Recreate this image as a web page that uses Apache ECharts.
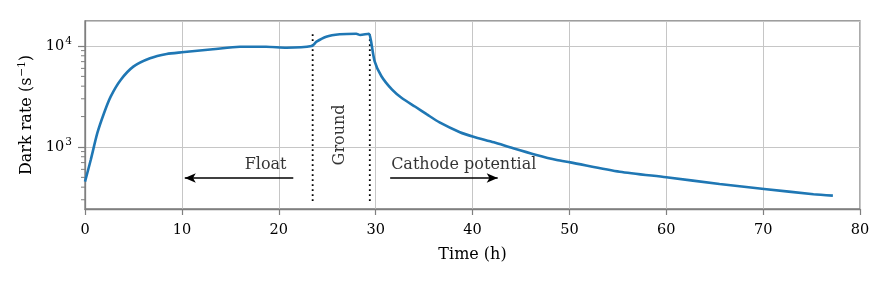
<!doctype html>
<html>
<head>
<meta charset="utf-8" />
<script src="https://cdn.jsdelivr.net/npm/echarts@6/dist/echarts.min.js"></script>
<style>
  html, body { margin: 0; padding: 0; background: #fff; }
  #chart { width: 886px; height: 284px; }
</style>
</head>
<body>
<div id="chart"></div>
<script>
// dark rate vs time
const timeH = [0, 0.59, 1.27, 1.96, 2.65, 3.68, 4.99, 6.71, 8.43, 10, 13.2, 16, 18.7, 20.8, 23.4,
  23.9, 24.9, 26.3, 28.0, 28.4, 29.3, 29.5, 29.9, 30.6, 31.7, 32.7, 34.1, 35.3, 36.6, 38.7, 40.1,
  42.2, 44.2, 46.6, 48.7, 50.1, 55.2, 60, 65.5, 70.1, 75.2, 77.2];
const darkRate = [453, 743, 1368, 2158, 3150, 4605, 6240, 7551, 8335, 8660, 9274, 9840, 9840, 9620, 10000,
  11030, 12370, 13060, 13240, 12850, 13240, 11500, 7050, 5010, 3690, 3050, 2500, 2100, 1750, 1400, 1264,
  1113, 971, 834, 743, 704, 569, 501, 430, 384, 340, 330];

const switchTimes = [23.5, 29.4];
const switchRange = [292, 13450];
const minorTickValues = [300, 400, 500, 600, 700, 800, 900,
  2000, 3000, 4000, 5000, 6000, 7000, 8000, 9000];

const FONT = "'DejaVu Serif', 'Liberation Serif', serif";
const AXIS_GREY = '#7f7f7f';
const TXT = '#000';

const chart = echarts.init(document.getElementById('chart'), null, { renderer: 'canvas' });

const arrowLine = (from, to) => [{ coord: from }, { coord: to }];
const supStyle = { fontFamily: FONT, fontSize: 10.5, color: TXT, verticalAlign: 'top', padding: [0, 0, 9, 1] };

chart.setOption({
  animation: false,
  backgroundColor: '#fff',
  grid: { left: 85, right: 26, top: 21, bottom: 75, show: true, borderColor: AXIS_GREY, borderWidth: 1.3 },
  xAxis: {
    type: 'value', min: 0, max: 80, interval: 10,
    name: 'Time (h)', nameLocation: 'middle', nameGap: 38,
    nameTextStyle: { fontFamily: FONT, fontSize: 16, color: TXT },
    axisLine: { lineStyle: { color: AXIS_GREY, width: 1.3 } },
    axisTick: { show: true, length: 6, lineStyle: { color: AXIS_GREY, width: 1.2 } },
    axisLabel: { fontFamily: FONT, fontSize: 14.5, color: TXT, margin: 14 },
    splitLine: { lineStyle: { color: '#c6c6c6', width: 1 } },
  },
  yAxis: {
    type: 'log', logBase: 10, min: 243, max: 17680,
    name: '{n|Dark rate (s}{s|−1}{n|)}', nameLocation: 'middle', nameGap: 46,
    nameTextStyle: { rich: {
      n: { fontFamily: FONT, fontSize: 16, color: TXT },
      s: supStyle,
    } },
    axisLine: { show: true, lineStyle: { color: AXIS_GREY, width: 1.3 } },
    axisTick: { show: true, length: 7, lineStyle: { color: AXIS_GREY, width: 1.2 } },
    axisLabel: {
      fontFamily: FONT, fontSize: 14.5, color: TXT, margin: 13,
      showMinLabel: false, showMaxLabel: false,
      formatter: (v) => {
        const p = Math.log10(v);
        if (Math.abs(p - Math.round(p)) > 1e-6) return '';
        return '10{s|' + Math.round(p) + '}';
      },
      rich: { s: supStyle },
    },
    splitLine: { lineStyle: { color: '#c6c6c6', width: 1 } },
  },
  series: [
    {
      type: 'line', data: timeH.map((t, i) => [t, darkRate[i]]),
      showSymbol: false, smooth: 0.25, lineStyle: { color: '#1f77b4', width: 2.6 }, z: 5,
    },
    ...switchTimes.map((t) => ({
      type: 'line', data: [[t, switchRange[0]], [t, switchRange[1]]], showSymbol: false,
      lineStyle: { color: '#000', width: 1.8, type: [1.8, 3.2] }, z: 4,
    })),
    {
      type: 'line', data: [], silent: true,
      markLine: {
        silent: true, symbol: ['none', 'arrow'], symbolSize: [7, 11],
        lineStyle: { color: '#000', width: 1.5, type: 'solid' }, label: { show: false },
        data: [arrowLine([21.5, 493], [10.3, 493]), arrowLine([31.5, 493], [42.6, 493])],
      },
    },
    {
      type: 'scatter', symbolSize: 0, silent: true, z: 6,
      data: [
        { value: [20.8, 664], label: { formatter: 'Float', align: 'right' } },
        { value: [31.6, 664], label: { formatter: 'Cathode potential', align: 'left' } },
        { value: [26.3, 1316], label: { formatter: 'Ground', align: 'center', rotate: 90 } },
      ],
      label: { show: true, position: 'inside', fontFamily: FONT, fontSize: 16, color: TXT, verticalAlign: 'middle' },
    },
    {
      // minor log ticks on the left axis
      type: 'custom', silent: true, data: minorTickValues.map((v) => [0, v]),
      renderItem: (params, api) => {
        const p = api.coord([0, api.value(1)]);
        return { type: 'line', shape: { x1: p[0], y1: p[1], x2: p[0] - 4, y2: p[1] },
          style: { stroke: AXIS_GREY, lineWidth: 1 } };
      },
      clip: false, z: 3,
    },
  ],
});
</script>
</body>
</html>
